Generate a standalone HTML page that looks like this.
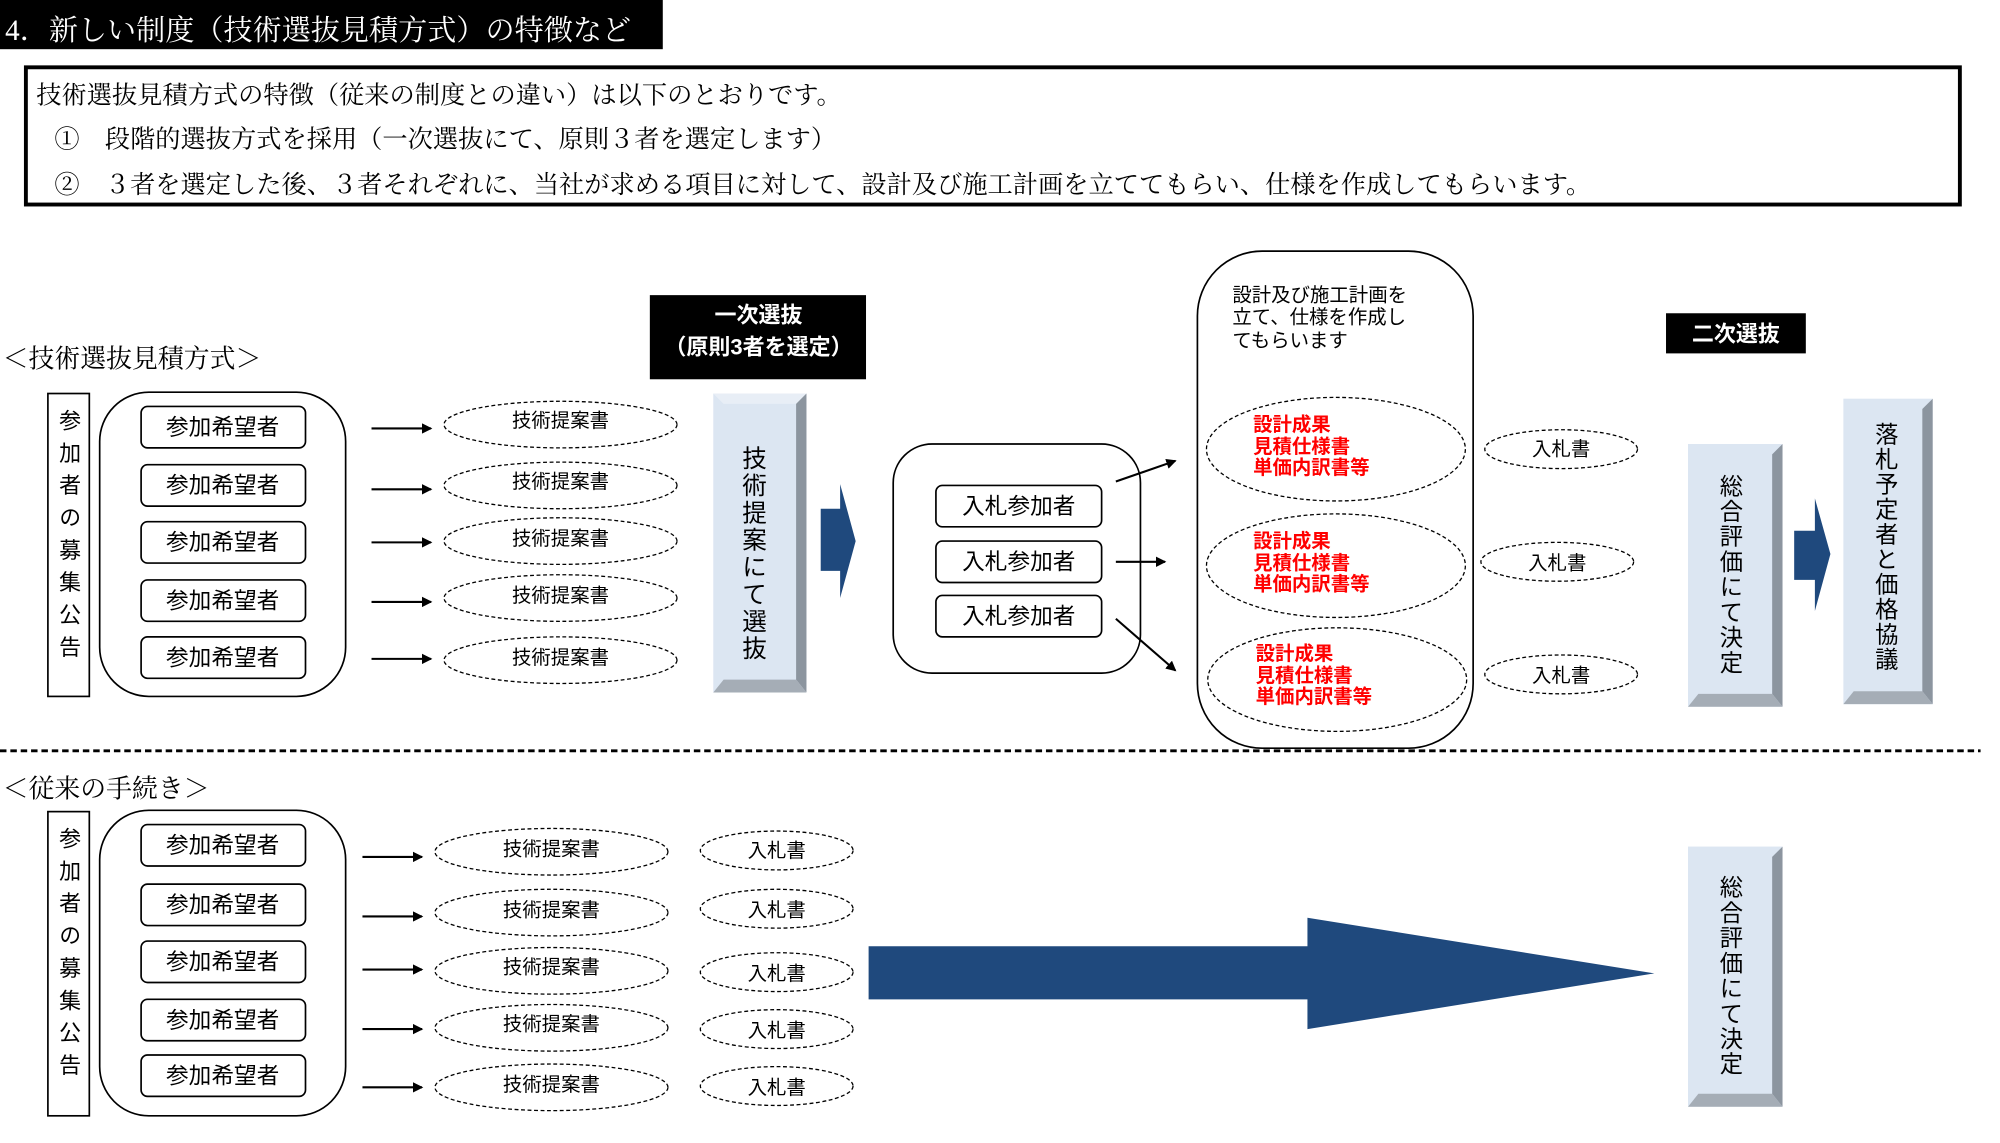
<!DOCTYPE html>
<html><head><meta charset="utf-8"><style>
html,body{margin:0;padding:0;background:#fff;}
svg{display:block;}
.g{font-family:"Liberation Sans","Noto Sans CJK JP",sans-serif;}
.m{font-family:"Liberation Serif","Noto Serif CJK SC",serif;}
.v{writing-mode:vertical-rl;}
</style></head><body>
<svg width="2000" height="1143" viewBox="0 0 1545 883" preserveAspectRatio="none" xmlns="http://www.w3.org/2000/svg">
<defs>
<marker id="ar" markerWidth="8" markerHeight="8" refX="7" refY="4" orient="auto" markerUnits="userSpaceOnUse"><path d="M0,0 L8,4 L0,8 z" fill="#000"/></marker>
</defs>
<!-- title -->
<rect x="0" y="0" width="512" height="38" fill="#000"/>
<text x="4" y="31" class="m" font-size="22.5" fill="#fff">4．新しい制度（技術選抜見積方式）の特徴など</text>
<rect x="20" y="52" width="1494" height="106" fill="#fff" stroke="#000" stroke-width="3"/>
<g class="m" font-size="19.5" fill="#000">
<text x="28" y="80">技術選抜見積方式の特徴（従来の制度との違い）は以下のとおりです。</text>
<text x="42" y="114">①　段階的選抜方式を採用（一次選抜にて、原則３者を選定します）</text>
<text x="42" y="149">②　３者を選定した後、３者それぞれに、当社が求める項目に対して、設計及び施工計画を立ててもらい、仕様を作成してもらいます。</text>
</g>
<text x="2" y="284" class="m" font-size="20">＜技術選抜見積方式＞</text>
<text x="2" y="616" class="m" font-size="20">＜従来の手続き＞</text>

<g class="g" font-size="17">
<rect x="37" y="304" width="32" height="234" fill="#fff" stroke="#000" stroke-width="1.3"/>
<text x="53" y="316" class="v" font-size="17" letter-spacing="8">参加者の募集公告</text>
<rect x="77" y="303" width="190" height="235" rx="38" fill="#fff" stroke="#000" stroke-width="1.3"/>
<rect x="37" y="627" width="32" height="235" fill="#fff" stroke="#000" stroke-width="1.3"/>
<text x="53" y="639" class="v" font-size="17" letter-spacing="8">参加者の募集公告</text>
<rect x="77" y="626" width="190" height="236" rx="38" fill="#fff" stroke="#000" stroke-width="1.3"/>
</g>
<g class="g" font-size="17.5" text-anchor="middle" fill="#000">
<g fill="#fff" stroke="#000" stroke-width="1.3">
<rect x="109" y="314" width="127" height="32" rx="5"/>
<rect x="109" y="359" width="127" height="32" rx="5"/>
<rect x="109" y="403" width="127" height="32" rx="5"/>
<rect x="109" y="448" width="127" height="32" rx="5"/>
<rect x="109" y="492" width="127" height="32" rx="5"/>
<rect x="109" y="637" width="127" height="32" rx="5"/>
<rect x="109" y="683" width="127" height="32" rx="5"/>
<rect x="109" y="727" width="127" height="32" rx="5"/>
<rect x="109" y="772" width="127" height="32" rx="5"/>
<rect x="109" y="815" width="127" height="32" rx="5"/>
</g>
<text x="172" y="336">参加希望者</text>
<text x="172" y="381">参加希望者</text>
<text x="172" y="425">参加希望者</text>
<text x="172" y="470">参加希望者</text>
<text x="172" y="514">参加希望者</text>
<text x="172" y="659">参加希望者</text>
<text x="172" y="705">参加希望者</text>
<text x="172" y="749">参加希望者</text>
<text x="172" y="794">参加希望者</text>
<text x="172" y="837">参加希望者</text>
</g>
<g stroke="#000" stroke-width="1.6" marker-end="url(#ar)">
<line x1="287" y1="331" x2="333" y2="331"/>
<line x1="287" y1="378" x2="333" y2="378"/>
<line x1="287" y1="419" x2="333" y2="419"/>
<line x1="287" y1="465" x2="333" y2="465"/>
<line x1="287" y1="509" x2="333" y2="509"/>
<line x1="280" y1="662" x2="326" y2="662"/>
<line x1="280" y1="708" x2="326" y2="708"/>
<line x1="280" y1="749" x2="326" y2="749"/>
<line x1="280" y1="795" x2="326" y2="795"/>
<line x1="280" y1="840" x2="326" y2="840"/>
<line x1="862" y1="372" x2="908" y2="356"/>
<line x1="862" y1="434" x2="900" y2="434"/>
<line x1="862" y1="478" x2="908" y2="518"/>
</g>
<g fill="none" stroke="#000" stroke-width="1" stroke-dasharray="3,2">
<ellipse cx="433" cy="328" rx="90" ry="18"/>
<ellipse cx="433" cy="375" rx="90" ry="18"/>
<ellipse cx="433" cy="418" rx="90" ry="18"/>
<ellipse cx="433" cy="462" rx="90" ry="18"/>
<ellipse cx="433" cy="510" rx="90" ry="18"/>
<ellipse cx="426" cy="658" rx="90" ry="18"/>
<ellipse cx="426" cy="705" rx="90" ry="18"/>
<ellipse cx="426" cy="750" rx="90" ry="18"/>
<ellipse cx="426" cy="794" rx="90" ry="18"/>
<ellipse cx="426" cy="840" rx="90" ry="18"/>
<ellipse cx="600" cy="657" rx="59" ry="15"/>
<ellipse cx="600" cy="702" rx="59" ry="15"/>
<ellipse cx="600" cy="751" rx="59" ry="15"/>
<ellipse cx="600" cy="795" rx="59" ry="15"/>
<ellipse cx="600" cy="839" rx="59" ry="15"/>
<ellipse cx="1206" cy="347" rx="59" ry="15"/>
<ellipse cx="1203" cy="434" rx="59" ry="15"/>
<ellipse cx="1206" cy="521" rx="59" ry="15"/>
<ellipse cx="1032" cy="347" rx="100" ry="40"/>
<ellipse cx="1032" cy="437" rx="100" ry="40"/>
<ellipse cx="1033" cy="525" rx="100" ry="40"/>
</g>
<g class="g" font-size="15" text-anchor="middle">
<text x="433" y="330">技術提案書</text>
<text x="433" y="377">技術提案書</text>
<text x="433" y="421">技術提案書</text>
<text x="433" y="465">技術提案書</text>
<text x="433" y="513">技術提案書</text>
<text x="426" y="661">技術提案書</text>
<text x="426" y="708">技術提案書</text>
<text x="426" y="752">技術提案書</text>
<text x="426" y="796">技術提案書</text>
<text x="426" y="843">技術提案書</text>
<text x="600" y="662">入札書</text>
<text x="600" y="708">入札書</text>
<text x="600" y="757">入札書</text>
<text x="600" y="801">入札書</text>
<text x="600" y="845">入札書</text>
<text x="1206" y="352">入札書</text>
<text x="1203" y="440">入札書</text>
<text x="1206" y="527">入札書</text>
</g>
<rect x="502" y="228" width="167" height="65" fill="#000"/>
<g class="g" font-size="17" font-weight="bold" fill="#fff" text-anchor="middle">
<text x="586" y="249">一次選抜</text>
<text x="586" y="274">（原則3者を選定）</text>
</g>
<rect x="1287" y="242" width="108" height="31" fill="#000"/>
<text x="1341" y="264" class="g" font-size="17" font-weight="bold" fill="#fff" text-anchor="middle">二次選抜</text>

<g>
<rect x="551" y="304" width="72" height="231" fill="#dce6f2"/>
<polygon points="551,304 623,304 615,312 559,312" fill="#e8eef6"/>
<polygon points="623,304 623,535 615,525 615,312" fill="#8c959f"/>
<polygon points="551,535 623,535 615,525 559,525" fill="#a5adb6"/>
<text x="581" y="344" class="g v" font-size="19" letter-spacing="2">技術提案にて選抜</text>
</g>
<g>
<rect x="1304" y="343" width="73" height="203" fill="#dce6f2"/>
<polygon points="1377,343 1377,546 1369,536 1369,351" fill="#8c959f"/>
<polygon points="1304,546 1377,546 1369,536 1312,536" fill="#a5adb6"/>
<text x="1336" y="366" class="g v" font-size="18" letter-spacing="1.5">総合評価にて決定</text>
</g>
<g>
<rect x="1424" y="308" width="69" height="236" fill="#dce6f2"/>
<polygon points="1493,308 1493,544 1485,534 1485,316" fill="#8c959f"/>
<polygon points="1424,544 1493,544 1485,534 1432,534" fill="#a5adb6"/>
<text x="1456" y="326" class="g v" font-size="18" letter-spacing="1.3">落札予定者と価格協議</text>
</g>
<g>
<rect x="1304" y="654" width="73" height="201" fill="#dce6f2"/>
<polygon points="1377,654 1377,855 1369,845 1369,662" fill="#8c959f"/>
<polygon points="1304,855 1377,855 1369,845 1312,845" fill="#a5adb6"/>
<text x="1336" y="676" class="g v" font-size="18" letter-spacing="1.5">総合評価にて決定</text>
</g>
<polygon points="634,393 649,393 649,374 661,418 649,462 649,441 634,441" fill="#1f497d"/>
<polygon points="1386,410 1402,410 1402,385 1414,428 1402,472 1402,448 1386,448" fill="#1f497d"/>
<polygon points="671,731 1010,731 1010,709 1278,752 1010,795 1010,772 671,772" fill="#1f497d"/>

<rect x="690" y="343" width="191" height="177" rx="30" fill="none" stroke="#000" stroke-width="1.3"/>
<g fill="#fff" stroke="#000" stroke-width="1.3">
<rect x="723" y="375" width="128" height="32" rx="5"/>
<rect x="723" y="418" width="128" height="32" rx="5"/>
<rect x="723" y="460" width="128" height="32" rx="5"/>
</g>
<g class="g" font-size="17.5" text-anchor="middle">
<text x="787" y="397">入札参加者</text>
<text x="787" y="440">入札参加者</text>
<text x="787" y="482">入札参加者</text>
</g>
<rect x="925" y="194" width="213" height="384" rx="50" fill="none" stroke="#000" stroke-width="1.3"/>
<g class="g" font-size="15">
<text x="952" y="233">設計及び施工計画を</text>
<text x="952" y="250">立て、仕様を作成し</text>
<text x="952" y="268">てもらいます</text>
</g>
<g class="g" font-size="15" font-weight="bold" fill="#ff0000">
<text x="968" y="333">設計成果</text><text x="968" y="350">見積仕様書</text><text x="968" y="366">単価内訳書等</text>
<text x="968" y="423">設計成果</text><text x="968" y="440">見積仕様書</text><text x="968" y="456">単価内訳書等</text>
<text x="970" y="510">設計成果</text><text x="970" y="527">見積仕様書</text><text x="970" y="543">単価内訳書等</text>
</g>
<line x1="0" y1="580" x2="1530" y2="580" stroke="#000" stroke-width="2.2" stroke-dasharray="5,3"/>
</svg>
</body></html>
